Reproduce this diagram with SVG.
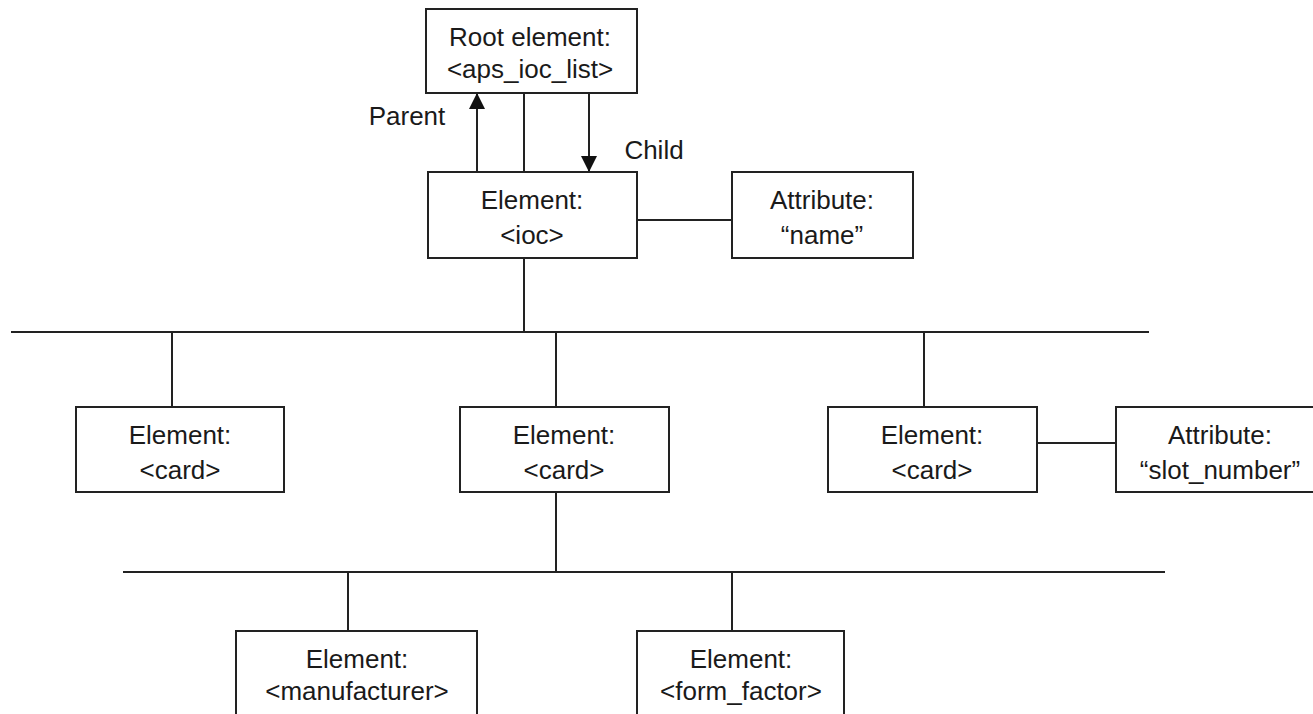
<svg xmlns="http://www.w3.org/2000/svg" width="1313" height="714" viewBox="0 0 1313 714">
<style>
.box{fill:#fff;stroke:#222;stroke-width:2}
.ln{stroke:#222;stroke-width:2;fill:none}
text{font-family:"Liberation Sans",Arial,sans-serif;font-size:26px;fill:#1a1a1a;text-anchor:middle}
</style>
<defs>
<marker id="ah" viewBox="0 0 16 16" refX="15" refY="8" markerWidth="16" markerHeight="16" markerUnits="userSpaceOnUse" orient="auto">
<path d="M0,0 L16,8 L0,16 Z" fill="#111"/>
</marker>
</defs>
<rect width="1313" height="714" fill="#fff"/>
<g id="connectors">
<line class="ln" x1="477" y1="172" x2="477" y2="94" marker-end="url(#ah)"/>
<line class="ln" x1="524" y1="93" x2="524" y2="172"/>
<line class="ln" x1="589" y1="93" x2="589" y2="171" marker-end="url(#ah)"/>
<line class="ln" x1="637" y1="220" x2="732" y2="220"/>
<line class="ln" x1="524" y1="258" x2="524" y2="332"/>
<line class="ln" x1="11" y1="332" x2="1149" y2="332"/>
<line class="ln" x1="172" y1="332" x2="172" y2="407"/>
<line class="ln" x1="556" y1="332" x2="556" y2="407"/>
<line class="ln" x1="924" y1="332" x2="924" y2="407"/>
<line class="ln" x1="1037" y1="443" x2="1116" y2="443"/>
<line class="ln" x1="556" y1="492" x2="556" y2="572"/>
<line class="ln" x1="123" y1="572" x2="1165" y2="572"/>
<line class="ln" x1="348" y1="572" x2="348" y2="631"/>
<line class="ln" x1="732" y1="572" x2="732" y2="631"/>
<text x="407" y="125">Parent</text>
<text x="654" y="159">Child</text>
</g>
<g id="root">
<rect class="box" x="426" y="9" width="211" height="84"/>
<text x="530" y="46">Root element:</text>
<text x="530" y="78">&lt;aps_ioc_list&gt;</text>
</g>
<g id="ioc">
<rect class="box" x="428" y="172" width="209" height="86"/>
<text x="532" y="209">Element:</text>
<text x="532" y="244">&lt;ioc&gt;</text>
</g>
<g id="attr-name">
<rect class="box" x="732" y="172" width="181" height="86"/>
<text x="822" y="209">Attribute:</text>
<text x="822" y="244">“name”</text>
</g>
<g id="card1">
<rect class="box" x="76" y="407" width="208" height="85"/>
<text x="180" y="444">Element:</text>
<text x="180" y="479">&lt;card&gt;</text>
</g>
<g id="card2">
<rect class="box" x="460" y="407" width="209" height="85"/>
<text x="564" y="444">Element:</text>
<text x="564" y="479">&lt;card&gt;</text>
</g>
<g id="card3">
<rect class="box" x="828" y="407" width="209" height="85"/>
<text x="932" y="444">Element:</text>
<text x="932" y="479">&lt;card&gt;</text>
</g>
<g id="attr-slot">
<rect class="box" x="1116" y="407" width="209" height="85"/>
<text x="1220" y="444">Attribute:</text>
<text x="1220" y="479">“slot_number”</text>
</g>
<g id="manufacturer">
<rect class="box" x="236" y="631" width="241" height="100"/>
<text x="357" y="668">Element:</text>
<text x="357" y="700">&lt;manufacturer&gt;</text>
</g>
<g id="form-factor">
<rect class="box" x="637" y="631" width="207" height="100"/>
<text x="741" y="668">Element:</text>
<text x="741" y="700">&lt;form_factor&gt;</text>
</g>
</svg>
